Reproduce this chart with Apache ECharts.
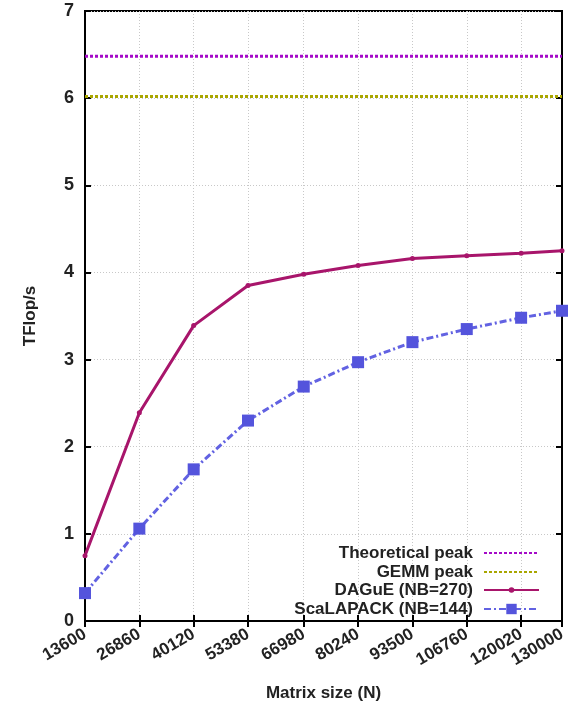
<!DOCTYPE html>
<html>
<head>
<meta charset="utf-8">
<title>TFlop/s vs Matrix size</title>
<script src="https://cdn.jsdelivr.net/npm/echarts@6/dist/echarts.min.js"></script>
<style>
  html, body { margin: 0; padding: 0; background: #fff; }
  #chart { width: 578px; height: 707px; }
</style>
</head>
<body>
<div id="chart"></div>
<script>
  // data
  const matrixSizes = [13600, 26860, 40120, 53380, 66980, 80240, 93500, 106760, 120020, 130000];
  const dagueValues = [0.75, 2.39, 3.39, 3.85, 3.98, 4.08, 4.16, 4.19, 4.22, 4.25];
  const scalapackValues = [0.32, 1.06, 1.74, 2.30, 2.69, 2.97, 3.20, 3.35, 3.48, 3.56];
  const theoreticalPeak = 6.48;
  const gemmPeak = 6.02;
  const yTicks = [0, 1, 2, 3, 4, 5, 6, 7];

  const seriesNames = ['Theoretical peak', 'GEMM peak', 'DAGuE (NB=270)', 'ScaLAPACK (NB=144)'];
  const font = 'Liberation Sans, Arial, Helvetica, sans-serif';

  const xFirst = matrixSizes[0];
  const xLast = matrixSizes[matrixSizes.length - 1];
  const pair = (xs, ys) => xs.map((x, i) => [x, ys[i]]);

  const chart = echarts.init(document.getElementById('chart'), null, { renderer: 'canvas' });

  // one legend per row so the icons line up on the right
  // legend symbol is 80% of itemHeight, so the height sets the marker size
  const rowCenters = [553, 572, 590, 609];
  const iconHeights = [12, 12, 7, 13];
  const legends = seriesNames.map((name, i) => ({
    data: [name],
    right: 38,
    top: rowCenters[i] - 9,
    align: 'right',
    orient: 'vertical',
    padding: 0,
    itemWidth: 55,
    itemHeight: iconHeights[i],
    itemStyle: i < 2 ? { opacity: 0 } : {},
    selectedMode: false,
    textStyle: {
      fontFamily: font, fontWeight: 'bold', fontSize: 17, color: '#222',
      lineHeight: 18, padding: [0, 6, 0, 0]
    }
  }));

  const gridLine = { show: true, lineStyle: { color: '#c8c8c8', type: [1, 2], width: 1 } };
  const blackLine = { lineStyle: { color: '#000', width: 2 } };

  chart.setOption({
    backgroundColor: '#fff',
    animation: false,
    grid: { left: 85, right: 16, top: 11, bottom: 80, show: true, borderColor: '#000', borderWidth: 2 },
    legend: legends,
    xAxis: [{
      type: 'value',
      min: xFirst,
      max: xLast,
      name: 'Matrix size (N)',
      nameLocation: 'middle',
      nameGap: 64,
      nameTextStyle: { fontFamily: font, fontWeight: 'bold', fontSize: 17, color: '#222' },
      axisLine: blackLine,
      axisTick: { inside: true, length: 6, customValues: matrixSizes, lineStyle: { color: '#000', width: 2 } },
      axisLabel: {
        customValues: matrixSizes,
        formatter: v => String(v),
        rotate: 30,
        margin: 12,
        fontFamily: font, fontWeight: 'bold', fontSize: 17, color: '#222'
      },
      splitLine: gridLine
    }, {
      type: 'value',
      position: 'top',
      min: xFirst,
      max: xLast,
      axisLine: blackLine,
      axisTick: { inside: true, length: 6, customValues: matrixSizes, lineStyle: { color: '#000', width: 2 } },
      axisLabel: { show: false },
      splitLine: { show: false }
    }],
    yAxis: [{
      type: 'value',
      min: yTicks[0],
      max: yTicks[yTicks.length - 1],
      interval: 1,
      name: 'TFlop/s',
      nameLocation: 'middle',
      nameGap: 46,
      nameTextStyle: { fontFamily: font, fontWeight: 'bold', fontSize: 17, color: '#222' },
      axisLine: { show: true, lineStyle: { color: '#000', width: 2 } },
      axisTick: { show: true, inside: true, length: 6, lineStyle: { color: '#000', width: 2 } },
      axisLabel: { margin: 11, fontFamily: font, fontWeight: 'bold', fontSize: 18, color: '#222' },
      splitLine: gridLine
    }, {
      type: 'value',
      position: 'right',
      min: yTicks[0],
      max: yTicks[yTicks.length - 1],
      interval: 1,
      axisLine: { show: true, lineStyle: { color: '#000', width: 2 } },
      axisTick: { show: true, inside: true, length: 6, lineStyle: { color: '#000', width: 2 } },
      axisLabel: { show: false },
      splitLine: { show: false }
    }],
    series: [
      {
        name: seriesNames[0],
        type: 'line',
        data: [[xFirst, theoreticalPeak], [xLast, theoreticalPeak]],
        symbol: 'none',
        color: '#a40bc8',
        lineStyle: { width: 3, type: [3, 2], cap: 'butt' }
      },
      {
        name: seriesNames[1],
        type: 'line',
        data: [[xFirst, gemmPeak], [xLast, gemmPeak]],
        symbol: 'none',
        color: '#a9a600',
        lineStyle: { width: 3, type: [3, 2], cap: 'butt' }
      },
      {
        name: seriesNames[2],
        type: 'line',
        data: pair(matrixSizes, dagueValues),
        symbol: 'circle',
        symbolSize: 5,
        color: '#a8156b',
        lineStyle: { width: 3 }
      },
      {
        name: seriesNames[3],
        type: 'line',
        data: pair(matrixSizes, scalapackValues),
        symbol: 'rect',
        symbolSize: 12,
        color: '#5454dc',
        lineStyle: { width: 3, type: [7, 3, 2, 3], color: '#6262e2' }
      }
    ]
  });
</script>
</body>
</html>
